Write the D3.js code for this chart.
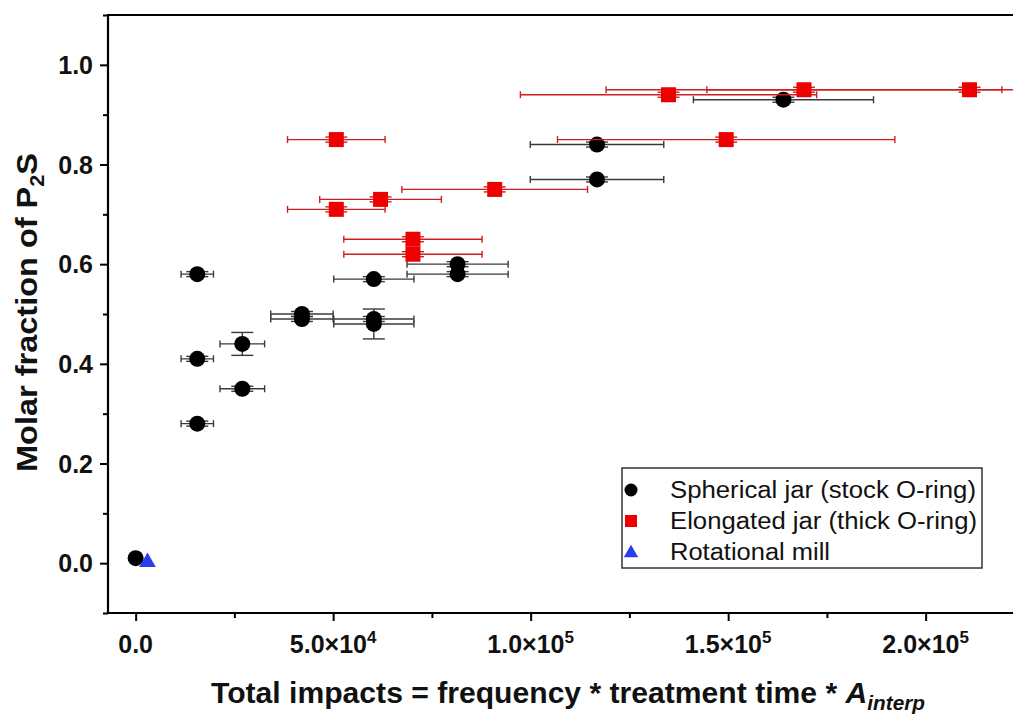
<!DOCTYPE html>
<html><head><meta charset="utf-8">
<script src="https://cdn.jsdelivr.net/npm/d3@7"></script>
<style>body{margin:0;background:#fff;} svg{display:block;}</style>
</head><body>
<svg id="chart" width="1013" height="714"></svg>
<script>
// ---- data ----
const sphericalX    = [0, 15600, 15600, 15600, 27000, 27000, 42100, 42100, 60300, 60300, 60300, 81500, 81500, 116800, 116800, 164000];
const sphericalY    = [0.01, 0.58, 0.41, 0.28, 0.44, 0.35, 0.50, 0.49, 0.57, 0.49, 0.48, 0.60, 0.58, 0.84, 0.77, 0.93];
const sphericalXErr = [0, 4100, 4100, 4100, 5650, 5650, 7900, 7900, 10150, 10150, 10150, 12800, 12800, 16900, 16900, 22800];
const sphericalYErr = [0, 0.005, 0.005, 0.005, 0.023, 0.005, 0.005, 0.005, 0.005, 0.005, 0.03, 0.005, 0.005, 0.005, 0.005, 0.005];

const elongatedX    = [50800, 50800, 62000, 70200, 70200, 90900, 134900, 149500, 169200, 211100];
const elongatedY    = [0.85, 0.71, 0.73, 0.65, 0.62, 0.75, 0.94, 0.85, 0.95, 0.95];
const elongatedXErr = [12350, 12350, 15400, 17500, 17500, 23500, 37500, 42700, 50100, 66500];
const elongatedYErr = [0.005, 0.005, 0.005, 0.005, 0.005, 0.005, 0.005, 0.005, 0.005, 0.005];

const rotationalX = [3000];
const rotationalY = [0.0];

const xTickValues = [0, 50000, 100000, 150000, 200000];
const xTickMant   = ["0.0", "5.0", "1.0", "1.5", "2.0"];
const xTickExp    = ["", "4", "5", "5", "5"];
const yTickValues = [0.0, 0.2, 0.4, 0.6, 0.8, 1.0];
const legendLabels = ["Spherical jar (stock O-ring)", "Elongated jar (thick O-ring)", "Rotational mill"];

// ---- layout ----
const svg = d3.select("#chart");
const FONT = "'Liberation Sans', Arial, sans-serif";
const mLeft = 108, mTop = 15, mBottom = 613;
const x = d3.scaleLinear().domain([-7000, 230000]).range([mLeft, mLeft + 237000 * 197.5 / 50000]);
const y = d3.scaleLinear().domain([-0.1, 1.1]).range([mBottom, mTop]);

svg.append("defs").append("clipPath").attr("id", "plotclip")
  .append("rect").attr("x", mLeft).attr("y", 0).attr("width", 1013 - mLeft).attr("height", mBottom);

// axes
const xAxis = d3.axisBottom(x).tickValues(xTickValues).tickSize(8).tickFormat("");
const xMinor = d3.axisBottom(x).tickValues(d3.range(25000, 230000, 50000)).tickSize(5).tickFormat("");
const yAxis = d3.axisLeft(y).tickValues(yTickValues).tickSize(8).tickFormat("");
const yMinor = d3.axisLeft(y).tickValues([-0.1, 0.1, 0.3, 0.5, 0.7, 0.9, 1.1]).tickSize(5).tickFormat("");

function styleAxis(g) {
  g.select(".domain").remove();
  g.selectAll(".tick line").attr("stroke", "#000").attr("stroke-width", 2);
}
svg.append("g").attr("transform", `translate(0,${mBottom})`).call(xAxis).call(styleAxis);
svg.append("g").attr("transform", `translate(0,${mBottom})`).call(xMinor).call(styleAxis);
svg.append("g").attr("transform", `translate(${mLeft},0)`).call(yAxis).call(styleAxis);
svg.append("g").attr("transform", `translate(${mLeft},0)`).call(yMinor).call(styleAxis);

// frame lines
svg.append("line").attr("x1", mLeft).attr("x2", 1013).attr("y1", mBottom).attr("y2", mBottom).attr("stroke", "#000").attr("stroke-width", 2.2);
svg.append("line").attr("x1", mLeft).attr("x2", mLeft).attr("y1", mTop).attr("y2", mBottom + 1).attr("stroke", "#000").attr("stroke-width", 2.2);
svg.append("line").attr("x1", mLeft - 1).attr("x2", 1013).attr("y1", mTop).attr("y2", mTop).attr("stroke", "#000").attr("stroke-width", 2.2);

// tick labels
svg.append("g").selectAll("text").data(yTickValues).join("text")
  .attr("x", 93).attr("y", d => y(d) + 9).attr("text-anchor", "end")
  .attr("font-family", FONT).attr("font-weight", "bold").attr("font-size", 25).attr("fill", "#111")
  .text(d => d.toFixed(1));

const xl = svg.append("g").selectAll("text").data(xTickValues).join("text")
  .attr("x", d => x(d)).attr("y", 653).attr("text-anchor", "middle")
  .attr("font-family", FONT).attr("font-weight", "bold").attr("font-size", 25).attr("fill", "#111");
xl.each(function(d, i) {
  const t = d3.select(this);
  if (xTickExp[i] === "") { t.text(xTickMant[i]); return; }
  t.append("tspan").text(xTickMant[i] + "\u00d710");
  t.append("tspan").attr("dy", -10).attr("font-size", 17).text(xTickExp[i]);
});

// axis titles
const xt = svg.append("text").attr("x", 211).attr("y", 703)
  .attr("font-family", FONT).attr("font-weight", "bold").attr("font-size", 29).attr("fill", "#111")
  .attr("textLength", 714).attr("lengthAdjust", "spacingAndGlyphs");
xt.append("tspan").text("Total impacts = frequency * treatment time * ");
xt.append("tspan").attr("font-style", "italic").text("A");
xt.append("tspan").attr("font-style", "italic").attr("font-size", 20).attr("dy", 7).text("interp");

const yt = svg.append("text").attr("transform", "translate(37,472) rotate(-90)")
  .attr("font-family", FONT).attr("font-weight", "bold").attr("font-size", 30).attr("fill", "#111")
  .attr("textLength", 319).attr("lengthAdjust", "spacingAndGlyphs");
yt.append("tspan").text("Molar fraction of P");
yt.append("tspan").attr("font-size", 20).attr("dy", 7).text("2");
yt.append("tspan").attr("dy", -7).text("S");

// plot
const plot = svg.append("g").attr("clip-path", "url(#plotclip)");

function errorBars(xs, ys, xe, ye, color) {
  const g = plot.append("g").attr("stroke", color).attr("stroke-width", 1.4).attr("fill", "none");
  xs.forEach((xv, i) => {
    const cy = y(ys[i]);
    if (xe[i] > 0) {
      const x1 = x(xv - xe[i]), x2 = x(xv + xe[i]);
      g.append("line").attr("x1", x1).attr("x2", x2).attr("y1", cy).attr("y2", cy);
      g.append("line").attr("x1", x1).attr("x2", x1).attr("y1", cy - 3.5).attr("y2", cy + 3.5);
      g.append("line").attr("x1", x2).attr("x2", x2).attr("y1", cy - 3.5).attr("y2", cy + 3.5);
    }
    if (ye[i] > 0) {
      const cx = x(xv), y1 = y(ys[i] + ye[i]), y2 = y(ys[i] - ye[i]);
      g.append("line").attr("x1", cx).attr("x2", cx).attr("y1", y1).attr("y2", y2);
      g.append("line").attr("x1", cx - 11).attr("x2", cx + 11).attr("y1", y1).attr("y2", y1);
      g.append("line").attr("x1", cx - 11).attr("x2", cx + 11).attr("y1", y2).attr("y2", y2);
    }
  });
}

errorBars(sphericalX, sphericalY, sphericalXErr, sphericalYErr, "#3a3a3a");
plot.append("g").selectAll("circle").data(sphericalX).join("circle")
  .attr("cx", d => x(d)).attr("cy", (d, i) => y(sphericalY[i])).attr("r", 8).attr("fill", "#000");

errorBars(elongatedX, elongatedY, elongatedXErr, elongatedYErr, "#cc1f1f");
plot.append("g").selectAll("rect").data(elongatedX).join("rect")
  .attr("x", d => x(d) - 7.5).attr("y", (d, i) => y(elongatedY[i]) - 7.5).attr("width", 15).attr("height", 15).attr("fill", "#ee0000");

const tri = d3.symbol().type(d3.symbolTriangle).size(120);
plot.append("g").selectAll("path").data(rotationalX).join("path")
  .attr("d", tri).attr("transform", (d, i) => `translate(${x(d)},${y(rotationalY[i]) - 1})`).attr("fill", "#2a3cf0");

// legend
const lg = svg.append("g");
lg.append("rect").attr("x", 622).attr("y", 468).attr("width", 360).attr("height", 100)
  .attr("fill", "#fff").attr("stroke", "#333").attr("stroke-width", 1.5);
const rowsY = [490, 521, 552];
lg.append("circle").attr("cx", 631).attr("cy", rowsY[0]).attr("r", 6.5).attr("fill", "#000");
lg.append("rect").attr("x", 625).attr("y", rowsY[1] - 6).attr("width", 12).attr("height", 12).attr("fill", "#ee0000");
lg.append("path").attr("d", d3.symbol().type(d3.symbolTriangle).size(90)).attr("transform", `translate(631,${rowsY[2] + 1})`).attr("fill", "#2a3cf0");
const legendWidths = [306, 307, 160];
lg.selectAll("text.lab").data(legendLabels).join("text").attr("class", "lab")
  .attr("x", 670).attr("y", (d, i) => rowsY[i] + 8)
  .attr("font-family", FONT).attr("font-size", 23).attr("fill", "#111")
  .attr("textLength", (d, i) => legendWidths[i]).attr("lengthAdjust", "spacingAndGlyphs")
  .text(d => d);
</script>
</body></html>
